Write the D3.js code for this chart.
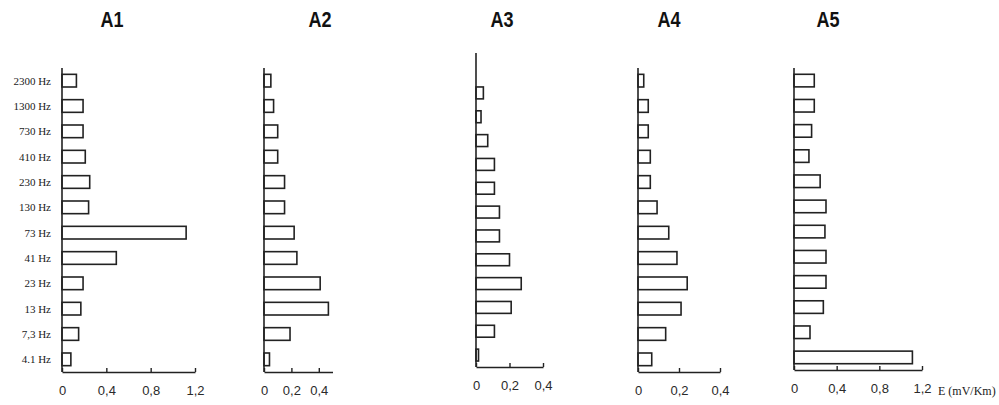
<!DOCTYPE html>
<html>
<head>
<meta charset="utf-8">
<script src="https://cdn.jsdelivr.net/npm/d3@7"></script>
<style>
  html, body { margin: 0; padding: 0; background: #fff; }
  svg { display: block; }
</style>
</head>
<body>
<svg id="chart" width="999" height="405"></svg>
<script>
// ---- data (top to bottom) ----
const categories = ["2300 Hz", "1300 Hz", "730 Hz", "410 Hz", "230 Hz", "130 Hz",
                    "73 Hz", "41 Hz", "23 Hz", "13 Hz", "7,3 Hz", "4.1 Hz"];
const panelTitles = ["A1", "A2", "A3", "A4", "A5"];
const valuesA1 = [0.13, 0.19, 0.19, 0.21, 0.25, 0.24, 1.12, 0.49, 0.19, 0.17, 0.15, 0.08];
const valuesA2 = [0.05, 0.07, 0.10, 0.10, 0.15, 0.15, 0.22, 0.24, 0.41, 0.47, 0.19, 0.04];
const valuesA3 = [0.044, 0.03, 0.07, 0.11, 0.11, 0.14, 0.14, 0.20, 0.27, 0.21, 0.11, 0.015];
const valuesA4 = [0.028, 0.05, 0.05, 0.06, 0.06, 0.093, 0.15, 0.19, 0.24, 0.21, 0.135, 0.067];
const valuesA5 = [0.19, 0.19, 0.165, 0.14, 0.245, 0.30, 0.29, 0.30, 0.30, 0.275, 0.15, 1.11];
const ticksA1 = [0, 0.4, 0.8, 1.2];
const ticksA2 = [0, 0.2, 0.4];
const ticksA3 = [0, 0.2, 0.4];
const ticksA4 = [0, 0.2, 0.4];
const ticksA5 = [0, 0.4, 0.8, 1.2];
const domainMax = [1.2, 0.5, 0.4, 0.4, 1.2];
const unitLabel = "E (mV/Km)";

// ---- layout ----
const layout = [
  { values: valuesA1, ticks: ticksA1, x0: 62,  x1: 195,    axisTop: 68, bandTop: 68, bottom: 372, titleX: 112, labels: true },
  { values: valuesA2, ticks: ticksA2, x0: 264, x1: 332.5,  axisTop: 68, bandTop: 68, bottom: 372, titleX: 320 },
  { values: valuesA3, ticks: ticksA3, x0: 476, x1: 543,    axisTop: 53, bandTop: 81, bottom: 367, titleX: 502 },
  { values: valuesA4, ticks: ticksA4, x0: 638, x1: 720,    axisTop: 68, bandTop: 68, bottom: 372, titleX: 669 },
  { values: valuesA5, ticks: ticksA5, x0: 794, x1: 922,    axisTop: 68, bandTop: 68, bottom: 370, titleX: 828 }
];

const svg = d3.select("#chart");
const fmt = d => d === 0 ? "0" : d3.format(".1f")(d).replace(".", ",");

layout.forEach((p, i) => {
  const g = svg.append("g");
  const x = d3.scaleLinear().domain([0, domainMax[i]]).range([p.x0, p.x1]);
  const y = d3.scaleBand().domain(categories).range([p.bandTop, p.bottom])
              .paddingInner(0.5).paddingOuter(0.25);

  // title (condensed bold look)
  g.append("text")
    .attr("transform", `translate(${p.titleX},27) scale(0.82,1)`)
    .attr("text-anchor", "middle")
    .attr("font-family", "'Liberation Sans Narrow', 'Arial Narrow', 'Liberation Sans', Arial, sans-serif")
    .attr("font-weight", "bold")
    .attr("font-size", 22)
    .attr("fill", "#111")
    .text(panelTitles[i]);

  // bars
  g.selectAll("rect.bar").data(categories.map((c, k) => ({ c, v: p.values[k] })))
    .enter().append("rect")
    .attr("class", "bar")
    .attr("x", x(0))
    .attr("y", d => y(d.c))
    .attr("width", d => x(d.v) - x(0))
    .attr("height", y.bandwidth())
    .attr("fill", "#fff")
    .attr("stroke", "#222")
    .attr("stroke-width", 1.6);

  // x axis
  const xa = g.append("g")
    .attr("transform", `translate(0,${p.bottom})`)
    .call(d3.axisBottom(x).tickValues(p.ticks).tickFormat(fmt)
            .tickSizeInner(-4).tickSizeOuter(0).tickPadding(14));
  xa.select(".domain").attr("stroke", "#222").attr("stroke-width", 1.6);
  xa.selectAll(".tick line").attr("stroke", "#222").attr("stroke-width", 1.4);
  xa.selectAll(".tick text")
    .attr("font-family", "'Liberation Sans', Arial, sans-serif")
    .attr("font-size", 13).attr("fill", "#2a2a2a");

  // y axis line
  g.append("line")
    .attr("x1", x(0)).attr("x2", x(0))
    .attr("y1", p.axisTop).attr("y2", p.bottom)
    .attr("stroke", "#222").attr("stroke-width", 1.6);

  // category labels
  if (p.labels) {
    g.selectAll("text.cat").data(categories).enter().append("text")
      .attr("class", "cat")
      .attr("x", 51)
      .attr("y", d => y(d) + y.bandwidth() / 2)
      .attr("dy", "0.35em")
      .attr("text-anchor", "end")
      .attr("font-family", "'Liberation Serif', 'Times New Roman', serif")
      .attr("font-size", 11)
      .attr("fill", "#1a1a1a")
      .text(d => d);
  }

  if (i === layout.length - 1) {
    g.append("text")
      .attr("x", 938).attr("y", p.bottom + 25)
      .attr("font-family", "'Liberation Serif', 'Times New Roman', serif")
      .attr("font-size", 12)
      .attr("fill", "#1a1a1a")
      .text(unitLabel);
  }
});
</script>
</body>
</html>
